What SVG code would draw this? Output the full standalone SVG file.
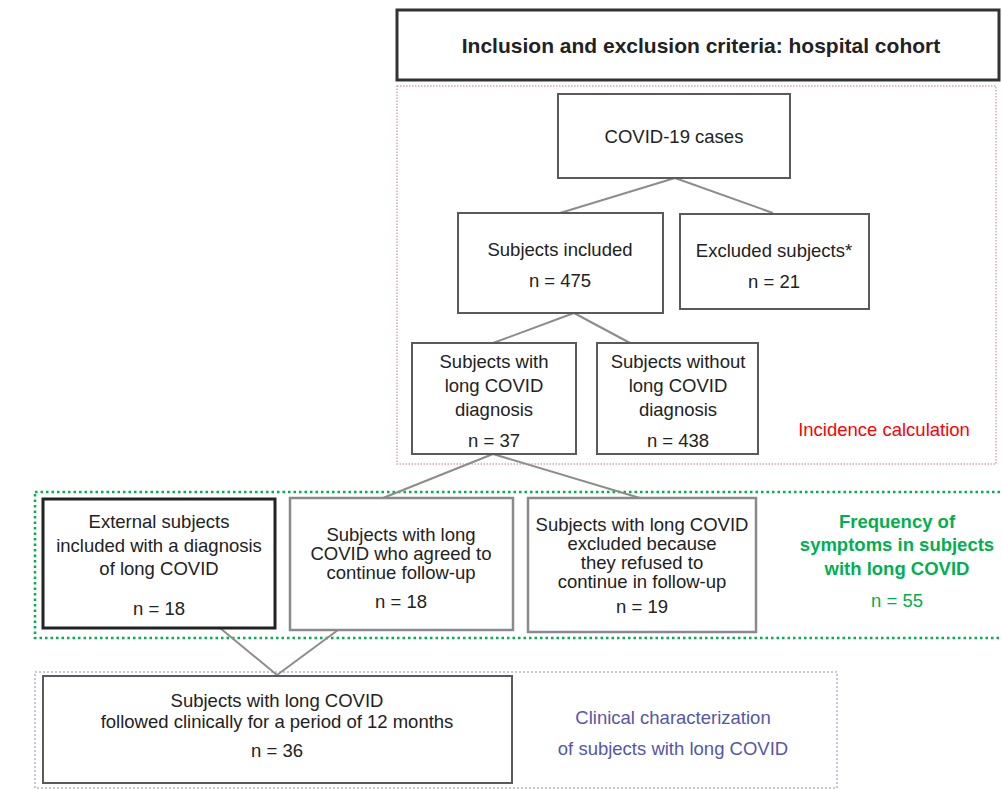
<svg xmlns="http://www.w3.org/2000/svg" width="1002" height="789" viewBox="0 0 1002 789">
<style>
text{font-family:"Liberation Sans",Arial,sans-serif;font-size:18.5px;fill:#222;text-anchor:middle}
.box{fill:#fff;stroke:#5a5a5a;stroke-width:2}
.gbox{fill:#fff;stroke:#8a8a8a;stroke-width:2.5}
.bold{font-weight:bold}
.conn line{stroke:#8c8c8c;stroke-width:2}
</style>
<rect width="1002" height="789" fill="#fff"/>
<g id="regions">
<rect id="incidence-region" x="397" y="86" width="599" height="378" fill="none" stroke="#d8a8b4" stroke-width="1.5" stroke-dasharray="1.5 1.5"/>
<rect id="frequency-region" x="35" y="492" width="970" height="146" fill="none" stroke="#00b050" stroke-width="2.5" stroke-dasharray="2.5 3"/>
<rect id="clinical-region" x="35" y="672" width="802" height="116" fill="none" stroke="#b4b4d8" stroke-width="1.5" stroke-dasharray="2 2"/>
</g>
<g class="conn" id="connectors">
<line x1="675" y1="178" x2="560" y2="213"/>
<line x1="675" y1="178" x2="773" y2="213"/>
<line x1="574" y1="313" x2="493" y2="343"/>
<line x1="574" y1="313" x2="630" y2="343"/>
<line x1="493" y1="454" x2="383" y2="498"/>
<line x1="493" y1="454" x2="640" y2="498"/>
<line x1="220" y1="628" x2="277" y2="675"/>
<line x1="338" y1="630" x2="277" y2="675"/>
</g>
<g id="title">
<rect x="397" y="10" width="602" height="70" fill="#fff" stroke="#333" stroke-width="3"/>
<text class="bold" x="701" y="53" style="font-size:21px">Inclusion and exclusion criteria: hospital cohort</text>
</g>
<g id="covid-cases">
<rect class="box" x="558" y="94" width="232" height="84"/>
<text x="674" y="143">COVID-19 cases</text>
</g>
<g id="subjects-included">
<rect class="box" x="458" y="213" width="205" height="100"/>
<text x="560" y="256">Subjects included</text>
<text x="560" y="287">n = 475</text>
</g>
<g id="excluded-subjects">
<rect class="box" x="680" y="214" width="189" height="95"/>
<text x="774" y="257">Excluded subjects*</text>
<text x="774" y="288">n = 21</text>
</g>
<g id="with-long-covid">
<rect class="box" x="412" y="343" width="164" height="111"/>
<text x="494" y="368">Subjects with</text>
<text x="494" y="392">long COVID</text>
<text x="494" y="416">diagnosis</text>
<text x="494" y="447">n = 37</text>
</g>
<g id="without-long-covid">
<rect class="box" x="597" y="343" width="161" height="111"/>
<text x="678" y="368">Subjects without</text>
<text x="678" y="392">long COVID</text>
<text x="678" y="416">diagnosis</text>
<text x="678" y="447">n = 438</text>
</g>
<g id="incidence-label">
<text x="884" y="436" style="fill:#ff0000">Incidence calculation</text>
</g>
<g id="external-subjects">
<rect x="43" y="499" width="232" height="129" fill="#fff" stroke="#222" stroke-width="3"/>
<text x="159" y="528">External subjects</text>
<text x="159" y="552">included with a diagnosis</text>
<text x="159" y="575">of long COVID</text>
<text x="159" y="615">n = 18</text>
</g>
<g id="agreed-follow-up">
<rect class="gbox" x="290" y="498" width="223" height="132"/>
<text x="401" y="541">Subjects with long</text>
<text x="401" y="560">COVID who agreed to</text>
<text x="401" y="579">continue follow-up</text>
<text x="401" y="608">n = 18</text>
</g>
<g id="refused-follow-up">
<rect class="gbox" x="528" y="498" width="228" height="134"/>
<text x="642" y="531">Subjects with long COVID</text>
<text x="642" y="550">excluded because</text>
<text x="642" y="569">they refused to</text>
<text x="642" y="588">continue in follow-up</text>
<text x="642" y="613">n = 19</text>
</g>
<g id="frequency-label">
<text class="bold" x="897" y="528" style="fill:#00b050">Frequency of</text>
<text class="bold" x="897" y="551" style="fill:#00b050">symptoms in subjects</text>
<text class="bold" x="897" y="575" style="fill:#00b050">with long COVID</text>
<text x="897" y="607" style="fill:#00b050">n = 55</text>
</g>
<g id="followed-12-months">
<rect class="box" x="43" y="676" width="469" height="107"/>
<text x="277" y="707">Subjects with long COVID</text>
<text x="277" y="728">followed clinically for a period of 12 months</text>
<text x="277" y="757">n = 36</text>
</g>
<g id="clinical-label">
<text x="673" y="724" style="fill:#5656a8">Clinical characterization</text>
<text x="673" y="755" style="fill:#5656a8">of subjects with long COVID</text>
</g>
</svg>
